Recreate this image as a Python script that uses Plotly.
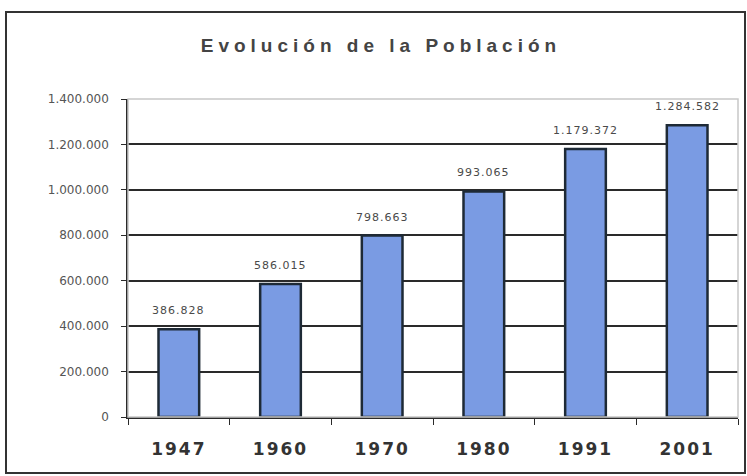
import plotly.graph_objects as go

# Datos del gráfico
anios = ['1947', '1960', '1970', '1980', '1991', '2001']
poblacion = [386828, 586015, 798663, 993065, 1179372, 1284582]
ticks_y = [0, 200000, 400000, 600000, 800000, 1000000, 1200000, 1400000]

FUENTE = 'DejaVu Sans, Arial'


def espaciado(px):
    return '<span style="letter-spacing:%spx">' % px


fig = go.Figure()

fig.add_trace(go.Bar(
    x=anios, y=poblacion,
    marker=dict(color='#7A9BE3', line=dict(color='#1E2A36', width=2.5)),
    cliponaxis=False, width=0.4, hoverinfo='skip',
))

# Etiquetas de valor sobre cada barra (x = índice de la categoría)
for i, valor in enumerate(poblacion):
    fig.add_annotation(
        x=i, y=valor, text=espaciado(1) + f'{valor:,}'.replace(',', '.') + '</span>',
        showarrow=False, yanchor='bottom', yshift=10,
        font=dict(family=FUENTE, size=11, color='#4a4a4a'),
    )

fig.update_layout(
    width=747, height=476,
    margin=dict(l=128, r=9, t=99, b=59),
    paper_bgcolor='white', plot_bgcolor='white',
    separators=',.',
    showlegend=False,
    title=dict(text=espaciado(5) + '<b>Evolución de la Población</b></span>',
               x=0.51, xanchor='center', xref='container',
               y=1 - 45 / 476, yanchor='middle', yref='container',
               font=dict(family='Liberation Sans, Arial', size=19, color='#444')),
    shapes=[
        # marco exterior
        dict(type='rect', xref='paper', yref='paper',
             x0=-122 / 610, x1=617 / 610, y0=-56 / 318, y1=1 + 87 / 318,
             line=dict(color='#333', width=2), layer='below'),
        # borde del área de trazado
        dict(type='rect', xref='paper', yref='paper', x0=0, x1=1, y0=0, y1=1,
             line=dict(color='#c8c8c8', width=1.5), layer='above'),
    ],
)

fig.update_yaxes(
    range=[0, 1400000], tickvals=ticks_y, tickformat=',d',
    showgrid=True, gridcolor='#2a2a2a', gridwidth=1.5,
    showline=True, linecolor='#2a2a2a', linewidth=1.5,
    ticks='outside', ticklen=5, tickcolor='#2a2a2a',
    zeroline=False, ticklabelstandoff=10,
    tickprefix=espaciado(3), ticksuffix='</span>',
    tickfont=dict(family=FUENTE, size=12, color='#555'),
)
fig.update_xaxes(
    type='category',
    showgrid=False, showline=True, linecolor='#2a2a2a', linewidth=2,
    ticks='outside', tickson='boundaries', ticklen=6, tickcolor='#2a2a2a',
    ticklabelstandoff=16, tickangle=0,
    tickfont=dict(family=FUENTE, size=17, color='#333'),
    tickprefix=espaciado(2) + '<b>', ticksuffix='</b></span>',
)

fig.write_html('out.html', config={'displayModeBar': False},
               post_script="document.body.style.margin='0';")
